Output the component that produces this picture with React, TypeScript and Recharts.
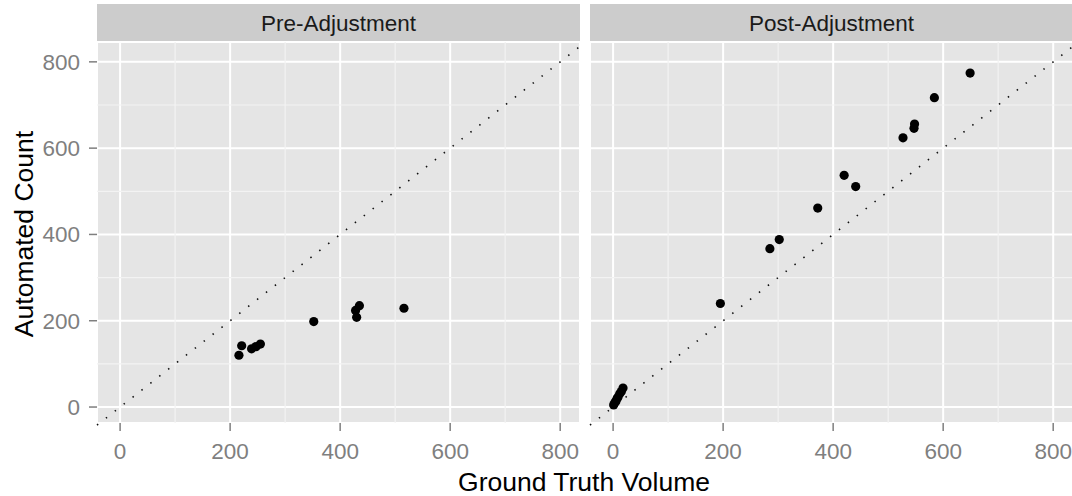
import { CartesianGrid, ReferenceLine, Scatter, ScatterChart, XAxis, YAxis } from "recharts";

const FONT = '"Liberation Sans", Arial, sans-serif';

// facet titles
const panels = ["Pre-Adjustment", "Post-Adjustment"];

// Pre-Adjustment points (ground truth, automated count)
const preTruth = [216, 221, 239, 247, 255, 352, 430, 428, 435, 516];
const preCount = [120, 142, 135, 140, 146, 198, 208, 224, 235, 229];

// Post-Adjustment points
const postTruth = [1, 3, 5, 7, 9, 12, 15, 18, 195, 285, 302, 372, 420, 441, 527, 547, 548, 584, 649];
const postCount = [5, 10, 13, 19, 23, 31, 36, 44, 240, 367, 388, 461, 537, 511, 624, 646, 656, 717, 774];

const majorTicks = [0, 200, 400, 600, 800];
const minorTicks = [100, 300, 500, 700];
const xDomain = [-42, 836];
const yDomain = [-37, 846];

const toPoints = (xs: number[], ys: number[]) => xs.map((x, i) => ({ x, y: ys[i] }));

const tickStyle = { fill: "#7F7F7F", fontSize: 22.5, fontFamily: FONT };
const tickLine = { stroke: "#7F7F7F", strokeWidth: 1.5 };

const Dot = (props: any) => <circle cx={props.cx} cy={props.cy} r={4.6} fill="#000" />;

function Panel({ data, showY, width, left }: { data: any[]; showY: boolean; width: number; left: number }) {
  return (
    <div style={{ position: "absolute", left, top: 0 }}>
      <ScatterChart
        width={width}
        height={463}
        margin={{ top: 42, right: showY ? 5 : 0, bottom: 0, left: showY ? 0 : 5 }}
      >
        <CartesianGrid fill="#E5E5E5" stroke="#FFFFFF" strokeWidth={2} />
        {minorTicks.map((v) => (
          <ReferenceLine key={"mx" + v} x={v} stroke="#F3F3F3" strokeWidth={1.2} />
        ))}
        {minorTicks.map((v) => (
          <ReferenceLine key={"my" + v} y={v} stroke="#F3F3F3" strokeWidth={1.2} />
        ))}
        <XAxis
          type="number"
          dataKey="x"
          domain={xDomain}
          ticks={majorTicks}
          interval={0}
          allowDataOverflow
          axisLine={false}
          tickLine={tickLine}
          tickSize={8}
          tickMargin={12}
          tick={tickStyle}
          height={40}
        />
        <YAxis
          type="number"
          dataKey="y"
          domain={yDomain}
          ticks={majorTicks}
          interval={0}
          allowDataOverflow
          hide={!showY}
          axisLine={false}
          tickLine={tickLine}
          tickSize={8}
          tickMargin={9}
          tick={tickStyle}
          width={97}
        />
        <ReferenceLine
          segment={[
            { x: xDomain[0], y: xDomain[0] },
            { x: xDomain[1], y: xDomain[1] },
          ]}
          ifOverflow="visible"
          stroke="#111"
          strokeWidth={1.6}
          strokeDasharray="1.5 9.8"
        />
        <Scatter data={data} shape={Dot} isAnimationActive={false} />
      </ScatterChart>
    </div>
  );
}

function Strip({ label, left }: { label: string; left: number }) {
  return (
    <div
      style={{
        position: "absolute",
        left,
        top: 4,
        width: 483,
        height: 38,
        background: "#CCCCCC",
        display: "flex",
        alignItems: "center",
        justifyContent: "center",
        paddingTop: 2,
        boxSizing: "border-box",
        fontSize: 22.5,
        color: "#1A1A1A",
        fontFamily: FONT,
      }}
    >
      {label}
    </div>
  );
}

export default function App() {
  return (
    <div
      style={{
        position: "absolute",
        left: 0,
        top: 0,
        width: 1072,
        height: 496,
        overflow: "hidden",
        background: "#fff",
        fontFamily: FONT,
      }}
    >
      <Strip label={panels[0]} left={97} />
      <Strip label={panels[1]} left={590} />
      <Panel data={toPoints(preTruth, preCount)} showY width={585} left={0} />
      <Panel data={toPoints(postTruth, postCount)} showY={false} width={488} left={585} />
      <svg
        width={1072}
        height={496}
        style={{ position: "absolute", left: 0, top: 0, pointerEvents: "none" }}
      >
        <text x={584} y={491} textAnchor="middle" fontSize={26.5} fill="#000" fontFamily={FONT}>
          Ground Truth Volume
        </text>
        <text
          x={33}
          y={234}
          textAnchor="middle"
          fontSize={26.5}
          fill="#000"
          fontFamily={FONT}
          transform="rotate(-90 33 234)"
        >
          Automated Count
        </text>
      </svg>
    </div>
  );
}
